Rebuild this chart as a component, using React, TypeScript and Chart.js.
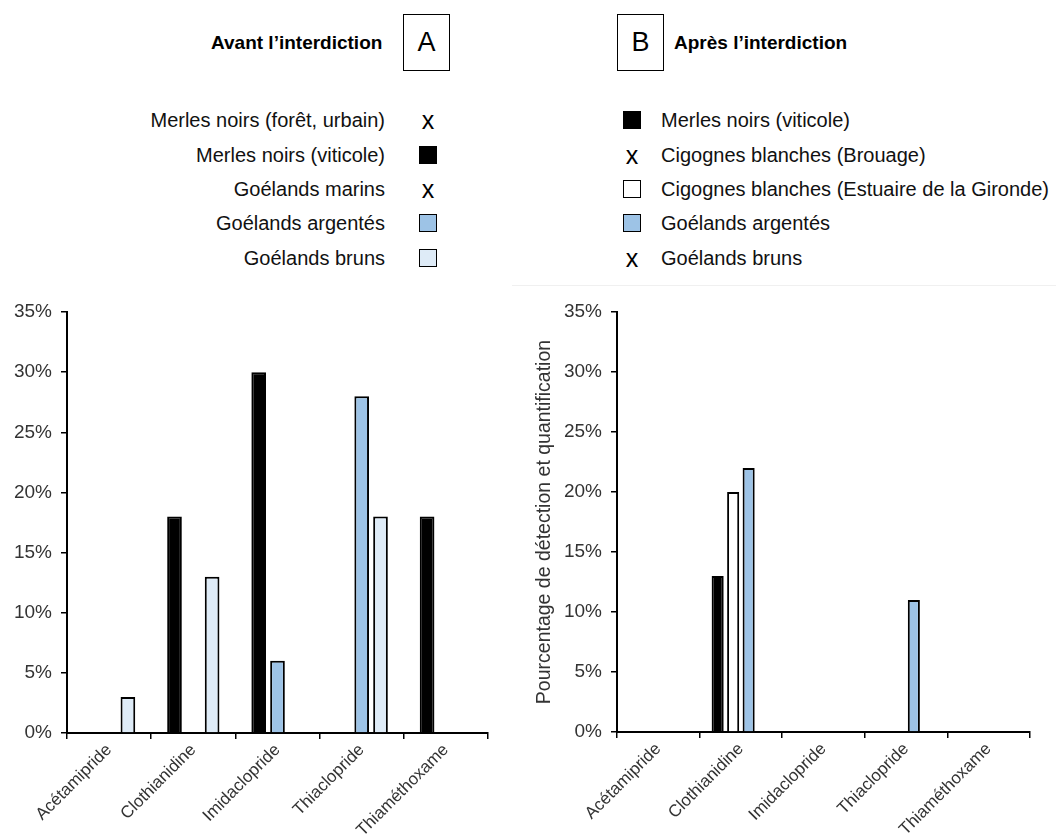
import React, { useEffect, useRef } from "react";
import { Chart, registerables } from "chart.js";

Chart.register(...registerables);

const FONT = "'Liberation Sans', Arial, Helvetica, sans-serif";

// ---- Data ----
const categories = ["Acétamipride", "Clothianidine", "Imidaclopride", "Thiaclopride", "Thiaméthoxame"];
const yTickValues = [0, 5, 10, 15, 20, 25, 30, 35];

// Avant l'interdiction (A)
const avantMerlesViticole = [0, 18, 30, 0, 18];
const avantGoelandsArgentes = [0, 0, 6, 28, 0];
const avantGoelandsBruns = [3, 13, 0, 18, 0];

// Après l'interdiction (B)
const apresMerlesViticole = [0, 13, 0, 0, 0];
const apresCigognesEstuaire = [0, 20, 0, 0, 0];
const apresGoelandsArgentes = [0, 22, 0, 11, 0];
const apresGoelandsBruns = [0, 0, 0, 0, 0];

const legendA = [
  { label: "Merles noirs (forêt, urbain)", marker: "x" },
  { label: "Merles noirs (viticole)", marker: "#000000" },
  { label: "Goélands marins", marker: "x" },
  { label: "Goélands argentés", marker: "#9dc3e6" },
  { label: "Goélands bruns", marker: "#deebf7" },
];
const legendB = [
  { label: "Merles noirs (viticole)", marker: "#000000" },
  { label: "Cigognes blanches (Brouage)", marker: "x" },
  { label: "Cigognes blanches (Estuaire de la Gironde)", marker: "#ffffff" },
  { label: "Goélands argentés", marker: "#9dc3e6" },
  { label: "Goélands bruns", marker: "x" },
];

const TICK_COLOR = "#333333";

function makeOptions(yWidth: number, xHeight: number, padTop: number, padRight: number, catPct: number, withTitle: boolean) {
  return {
    responsive: false,
    animation: false as const,
    layout: { padding: { top: padTop, right: padRight, left: 0, bottom: 0 } },
    plugins: { legend: { display: false }, tooltip: { enabled: false } },
    datasets: { bar: { categoryPercentage: catPct, barPercentage: 0.78 } },
    scales: {
      x: {
        type: "category" as const,
        grid: { display: true, offset: true, drawOnChartArea: false, drawTicks: true, tickLength: 6, color: "#000", lineWidth: 1.5 },
        border: { display: true, color: "#000", width: 2 },
        ticks: {
          color: TICK_COLOR,
          font: { family: FONT, size: 17 },
          maxRotation: 45,
          minRotation: 45,
          autoSkip: false,
          padding: 1,
        },
        afterFit: (s: any) => { s.height = xHeight; },
      },
      y: {
        min: 0,
        max: 35,
        afterBuildTicks: (s: any) => { s.ticks = yTickValues.map((v) => ({ value: v })); },
        grid: { display: true, drawOnChartArea: false, drawTicks: true, tickLength: 6, color: "#000", lineWidth: 1.5 },
        border: { display: true, color: "#000", width: 2 },
        ticks: {
          color: TICK_COLOR,
          font: { family: FONT, size: 19 },
          padding: 9,
          callback: (v: any) => v + "%",
        },
        title: {
          display: withTitle,
          text: "Pourcentage de détection et quantification",
          color: TICK_COLOR,
          font: { family: FONT, size: 19.5 },
          padding: { top: 13, bottom: 0 },
        },
        afterFit: (s: any) => { s.width = yWidth; },
      },
    },
  };
}

function ChartBox(props: { left: number; top: number; width: number; height: number; config: () => any }) {
  const ref = useRef<HTMLCanvasElement | null>(null);
  useEffect(() => {
    if (!ref.current) return;
    const chart = new Chart(ref.current, props.config());
    return () => chart.destroy();
  }, []);
  return (
    <canvas
      ref={ref}
      width={props.width}
      height={props.height}
      style={{ position: "absolute", left: props.left, top: props.top, width: props.width, height: props.height }}
    />
  );
}

function Legend(props: { items: { label: string; marker: string }[]; align: "right" | "left"; textEdge: number; markerX: number; rows: number[] }) {
  return (
    <>
      {props.items.map((it, i) => {
        const cy = props.rows[i];
        const textStyle: any = {
          position: "absolute",
          top: cy - 12,
          height: 24,
          lineHeight: "24px",
          fontSize: 20,
          color: "#111",
          whiteSpace: "nowrap",
        };
        if (props.align === "right") {
          textStyle.right = 1056 - props.textEdge;
          textStyle.textAlign = "right";
        } else {
          textStyle.left = props.textEdge;
        }
        const marker =
          it.marker === "x" ? (
            <div
              style={{
                position: "absolute",
                left: props.markerX - 12,
                top: cy - 14,
                width: 24,
                height: 28,
                lineHeight: "28px",
                textAlign: "center",
                fontSize: 25,
                color: "#000",
              }}
            >
              x
            </div>
          ) : (
            <div
              style={{
                position: "absolute",
                left: props.markerX - 9,
                top: cy - 9,
                width: 18,
                height: 18,
                boxSizing: "border-box",
                border: "1.5px solid #000",
                background: it.marker,
              }}
            />
          );
        return (
          <React.Fragment key={i}>
            <div style={textStyle}>{it.label}</div>
            {marker}
          </React.Fragment>
        );
      })}
    </>
  );
}

export default function App() {
  const configA = () => ({
    type: "bar",
    data: {
      labels: categories,
      datasets: [
        { label: "Merles noirs (viticole)", data: avantMerlesViticole, backgroundColor: "#000000", borderColor: "#000", borderWidth: 2 },
        { label: "Goélands argentés", data: avantGoelandsArgentes, backgroundColor: "#9dc3e6", borderColor: "#000", borderWidth: 2 },
        { label: "Goélands bruns", data: avantGoelandsBruns, backgroundColor: "#deebf7", borderColor: "#000", borderWidth: 2 },
      ],
    },
    options: makeOptions(67, 103, 22, 32, 0.67, false),
  });
  const configB = () => ({
    type: "bar",
    data: {
      labels: categories,
      datasets: [
        { label: "Merles noirs (viticole)", data: apresMerlesViticole, backgroundColor: "#000000", borderColor: "#000", borderWidth: 2 },
        { label: "Cigognes blanches (Estuaire de la Gironde)", data: apresCigognesEstuaire, backgroundColor: "#ffffff", borderColor: "#000", borderWidth: 2 },
        { label: "Goélands argentés", data: apresGoelandsArgentes, backgroundColor: "#9dc3e6", borderColor: "#000", borderWidth: 2 },
        { label: "Goélands bruns", data: apresGoelandsBruns, backgroundColor: "#deebf7", borderColor: "#000", borderWidth: 2 },
      ],
    },
    options: makeOptions(97, 104, 22, 26, 0.75, true),
  });

  const rows = [120, 155, 189, 223, 258];

  return (
    <div
      style={{
        position: "fixed",
        left: 0,
        top: 0,
        width: 1056,
        height: 836,
        overflow: "hidden",
        background: "#fff",
        fontFamily: FONT,
      }}
    >
      {/* Titles */}
      <div style={{ position: "absolute", left: 211, top: 30, height: 26, lineHeight: "26px", fontSize: 19, fontWeight: "bold", color: "#000", whiteSpace: "nowrap" }}>
        Avant l’interdiction
      </div>
      <div style={{ position: "absolute", left: 403, top: 14, width: 47, height: 57, boxSizing: "border-box", border: "1.5px solid #000", textAlign: "center", lineHeight: "54px", fontSize: 27, color: "#000" }}>
        A
      </div>
      <div style={{ position: "absolute", left: 617, top: 14, width: 47, height: 57, boxSizing: "border-box", border: "1.5px solid #000", textAlign: "center", lineHeight: "54px", fontSize: 27, color: "#000" }}>
        B
      </div>
      <div style={{ position: "absolute", left: 674, top: 30, height: 26, lineHeight: "26px", fontSize: 19, fontWeight: "bold", color: "#000", whiteSpace: "nowrap" }}>
        Après l’interdiction
      </div>

      <Legend items={legendA} align="right" textEdge={385} markerX={428} rows={rows} />
      <Legend items={legendB} align="left" textEdge={661} markerX={632} rows={rows} />

      <div style={{ position: "absolute", left: 512, top: 285, width: 544, height: 1, background: "#f0f0f0" }} />

      <ChartBox left={0} top={290} width={520} height={546} config={configA} />
      <ChartBox left={520} top={290} width={536} height={546} config={configB} />
    </div>
  );
}
